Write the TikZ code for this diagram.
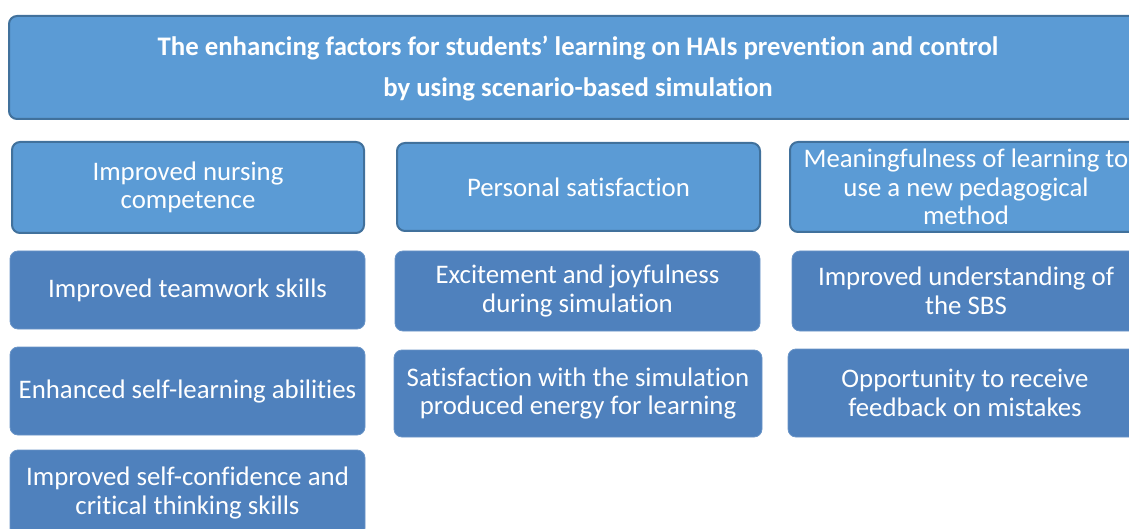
\documentclass[tikz,border=0pt]{standalone}
\usepackage{fontspec}
\setmainfont{Carlito}[Ligatures=CommonOff]
\definecolor{lightblue}{HTML}{5B9BD5}
\definecolor{edgeblue}{HTML}{41719C}
\definecolor{darkblue}{HTML}{4F81BD}

\begin{document}
\begin{tikzpicture}[x=1pt,y=-1pt,
        box/.style={rounded corners=8pt, text=white, align=center, inner sep=0pt, outer sep=0pt,
          font=\fontsize{26.8}{28.5}\selectfont},
        headbox/.style={box, fill=lightblue, draw=edgeblue, line width=2pt,
          font=\bfseries\fontsize{26.8}{41}\selectfont},
        lightbox/.style={box, fill=lightblue, draw=edgeblue, line width=2pt},
        darkbox/.style={box, fill=darkblue, draw=darkblue!85!white, line width=0.8pt}]
        \useasboundingbox (0,0) rectangle (1129,529);
        \clip (0,0) rectangle (1129,529);

        % heading
        \node[headbox, minimum width=1138pt, minimum height=103pt, text depth=2pt] (head) at (578,67.5)
        {The enhancing factors for students’ learning on HAIs prevention and control\\
        by using scenario-based simulation};

        % first row
        \node[lightbox, minimum width=352pt, minimum height=91pt] (nursing) at (188,187.5)
        {Improved nursing\\competence};
        \node[lightbox, minimum width=363pt, minimum height=88pt] (personal) at (578.5,187)
        {Personal satisfaction};
        \node[lightbox, minimum width=352pt, minimum height=90pt] (meaning) at (966,187)
        {Meaningfulness of learning to\\use a new pedagogical\\method};

        % second row
        \node[darkbox, minimum width=355pt, minimum height=78pt] (teamwork) at (187.5,290)
        {Improved teamwork skills};
        \node[darkbox, minimum width=365pt, minimum height=80pt] (excite) at (577.5,291)
        {Excitement and joyfulness\\during simulation};
        \node[darkbox, minimum width=348pt, minimum height=80pt] (sbs) at (966,291)
        {Improved understanding of\\the SBS};

        % third row
        \node[darkbox, minimum width=355pt, minimum height=88pt] (selflearn) at (187.5,391)
        {Enhanced self-learning abilities};
        \node[darkbox, minimum width=368pt, minimum height=87pt] (energy) at (578,393.5)
        {Satisfaction with the simulation\\produced energy for learning};
        \node[darkbox, minimum width=354pt, minimum height=88pt] (feedback) at (965,393)
        {Opportunity to receive\\feedback on mistakes};

        % fourth row
        \node[darkbox, minimum width=355pt, minimum height=86pt] (confidence) at (187.5,493)
        {Improved self-confidence and\\critical thinking skills};

    \end{tikzpicture}
\end{document}
